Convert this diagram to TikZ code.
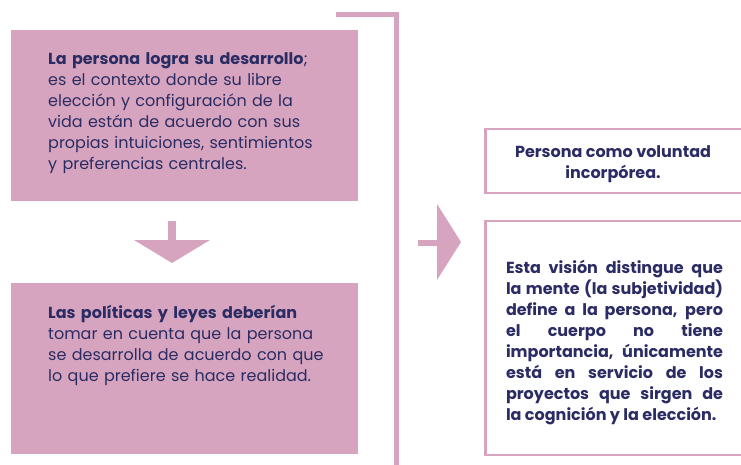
\documentclass[tikz,border=0pt]{standalone}
\usepackage{fontspec}
\setmainfont{Poppins}
\usepackage{tikz}
\definecolor{rosa}{HTML}{D6A4BE}
\definecolor{marino}{HTML}{2A2C63}

\tikzset{
	cajarosa/.style={fill=rosa, draw=none, anchor=north west, inner sep=0pt},
	cajaborde/.style={draw=rosa, line width=2.5pt, fill=none, anchor=north west, inner sep=0pt},
	textoizq/.style={text=marino, anchor=north west, inner sep=0pt, text width=300pt, align=left,
		font=\fontsize{16}{21}\selectfont},
	textoder/.style={text=marino, inner sep=0pt, font=\fontsize{16}{21}\selectfont\bfseries}
}

\begin{document}
\begin{tikzpicture}[x=1pt,y=-1pt]
	\useasboundingbox (0,0) rectangle (741,464);
	
	% cajas de la izquierda
	\node[cajarosa, minimum width=347pt, minimum height=171pt] (desarrollo) at (11,30) {};
	\node[cajarosa, minimum width=347pt, minimum height=171pt] (politicas) at (11,283) {};
	\node[textoizq] (desarrollotxt) at (48,52) {\textbf{La persona logra su desarrollo};\\
		es el contexto donde su libre\\
		elección y configuración de la\\
		vida están de acuerdo con sus\\
		propias intuiciones, sentimientos\\
		y preferencias centrales.};
	\node[textoizq] (politicastxt) at (48,305) {\textbf{Las políticas y leyes deberían}\\
		tomar en cuenta que la persona\\
		se desarrolla de acuerdo con que\\
		lo que prefiere se hace realidad.};
	
	% flecha hacia abajo
	\fill[rosa] (168,221) rectangle (176,241);
	\fill[rosa] (134,240) -- (210,240) -- (172,263) -- cycle;
	
	% corchete
	\draw[rosa, line width=5pt] (336,14.5) -- (396.5,14.5) -- (396.5,470);
	
	% flecha hacia la derecha
	\fill[rosa] (418,239.5) rectangle (438,245.5);
	\fill[rosa] (437,204) -- (461,242) -- (437,280) -- cycle;
	
	% cajas de la derecha
	\node[cajaborde, minimum width=262pt, minimum height=64pt] (voluntad) at (484,127.5) {};
	\node[cajaborde, minimum width=262pt, minimum height=234pt] (vision) at (484,219.5) {};
	\node[textoder, align=center, anchor=north] (voluntadtxt) at (613,145) {Persona como voluntad\\incorpórea.};
	\node[textoder, anchor=north, text width=217pt, align=justify] (visiontxt) at (614.5,260) {\hyphenpenalty=10000
		Esta visión distingue que\linebreak
		la mente (la subjetividad)\linebreak
		define a la persona, pero\linebreak
		el cuerpo no tiene\linebreak
		importancia, únicamente\linebreak
		está en servicio de los\linebreak
		proyectos que sirgen de\linebreak
		la cognición y la elección.};
	
\end{tikzpicture}
\end{document}
